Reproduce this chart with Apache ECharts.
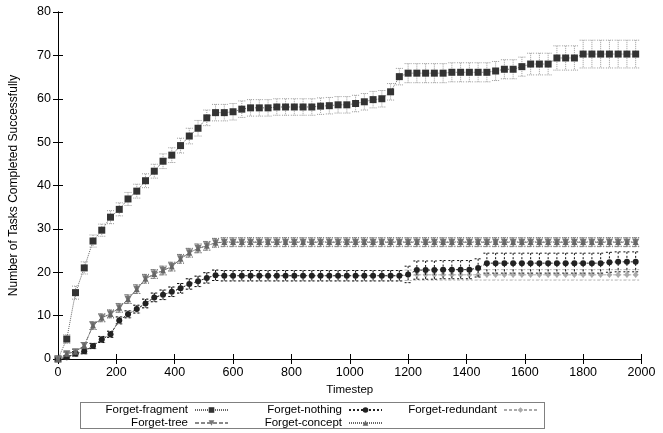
<!DOCTYPE html>
<html><head><meta charset="utf-8">
<script src="https://cdn.jsdelivr.net/npm/echarts@6/dist/echarts.min.js"></script>
<style>html,body{margin:0;padding:0;background:#fff}#c{width:663px;height:433px}</style>
</head><body><div id="c"></div>
<script>
const timesteps = [0,30,60,90,120,150,180,210,240,270,300,330,360,390,420,450,480,510,540,570,600,630,660,690,720,750,780,810,840,870,900,930,960,990,1020,1050,1080,1110,1140,1170,1200,1230,1260,1290,1320,1350,1380,1410,1440,1470,1500,1530,1560,1590,1620,1650,1680,1710,1740,1770,1800,1830,1860,1890,1920,1950,1980];
const xTicks = [0,200,400,600,800,1000,1200,1400,1600,1800,2000];
const yTicks = [0,10,20,30,40,50,60,70,80];

const fragment = [0,4.6,15.3,21.0,27.2,29.7,32.7,34.5,36.9,38.7,41.1,43.3,45.6,47.0,49.2,51.4,53.2,55.6,56.8,56.8,57.0,57.6,57.9,57.9,57.9,58.1,58.1,58.1,58.1,58.1,58.3,58.4,58.6,58.6,58.9,59.3,59.8,60.0,61.6,65.1,65.9,65.9,65.9,65.9,65.9,66.1,66.1,66.1,66.1,66.1,66.4,66.8,66.8,67.4,68.0,68.0,68.0,69.4,69.4,69.4,70.3,70.3,70.3,70.3,70.3,70.3,70.3];
const fragmentErr = [0,1.0,1.5,1.4,1.4,1.4,1.5,1.5,1.5,1.6,1.6,1.6,1.7,1.7,1.7,1.8,1.8,1.8,1.9,1.9,1.9,1.9,1.9,1.9,1.9,1.9,1.9,1.9,1.9,1.9,1.9,1.9,1.9,1.9,1.9,1.9,1.9,1.9,1.9,1.9,2.2,2.2,2.2,2.2,2.2,2.2,2.2,2.2,2.2,2.2,2.2,2.2,2.2,2.2,2.5,2.5,2.5,2.8,2.8,2.8,3.2,3.2,3.2,3.2,3.2,3.2,3.2];

const nothing = [0,0.4,1.2,1.8,3.0,4.5,5.7,8.9,10.3,11.5,12.8,14.2,14.8,15.5,16.3,17.3,17.9,18.7,19.3,19.2,19.2,19.2,19.2,19.2,19.2,19.2,19.2,19.2,19.2,19.2,19.2,19.2,19.2,19.2,19.2,19.2,19.2,19.2,19.2,19.2,19.5,20.5,20.5,20.5,20.6,20.6,20.6,20.6,21.0,22.1,22.1,22.1,22.1,22.1,22.1,22.1,22.1,22.1,22.1,22.1,22.1,22.1,22.1,22.3,22.4,22.4,22.4];
const nothingErr = [0,0.3,0.5,0.6,0.6,0.7,0.7,0.8,0.8,0.9,1.0,1.0,1.1,1.1,1.1,1.2,1.2,1.2,1.2,1.2,1.2,1.2,1.2,1.2,1.2,1.2,1.2,1.2,1.2,1.2,1.2,1.2,1.2,1.2,1.2,1.2,1.2,1.2,1.2,1.2,1.9,2.1,2.1,2.1,2.1,2.1,2.1,2.1,2.1,2.3,2.3,2.3,2.3,2.3,2.3,2.3,2.3,2.3,2.3,2.3,2.3,2.3,2.3,2.3,2.3,2.3,2.3];

const redundant = [0,0.4,1.2,1.8,3.0,4.5,5.7,8.9,10.3,11.5,12.8,14.2,14.8,15.5,16.3,17.3,17.9,18.7,19.3,19.2,19.2,19.2,19.2,19.2,19.2,19.2,19.2,19.2,19.2,19.2,19.2,19.2,19.2,19.2,19.2,19.2,19.2,19.2,19.2,19.2,19.3,19.4,19.4,19.4,19.4,19.4,19.4,19.4,19.4,19.4,19.4,19.4,19.4,19.4,19.4,19.4,19.4,19.4,19.4,19.4,19.4,19.4,19.4,19.4,19.4,19.4,19.4];
const redundantErr = [0,0.3,0.5,0.6,0.6,0.7,0.7,0.8,0.8,0.9,1.0,1.0,1.1,1.1,1.1,1.2,1.2,1.2,1.2,1.2,1.2,1.2,1.2,1.2,1.2,1.2,1.2,1.2,1.2,1.2,1.2,1.2,1.2,1.2,1.2,1.2,1.2,1.2,1.2,1.2,1.2,1.2,1.2,1.2,1.2,1.2,1.2,1.2,1.2,1.2,1.2,1.2,1.2,1.2,1.2,1.2,1.2,1.2,1.2,1.2,1.2,1.2,1.2,1.2,1.2,1.2,1.2];

const tree = [0,1.2,1.7,3.1,7.7,9.5,10.4,11.8,13.8,16.1,18.5,19.6,20.4,21.3,23.1,24.5,25.5,26.1,26.8,26.9,26.9,26.9,26.9,26.9,26.9,26.9,26.9,26.9,26.9,26.9,26.9,26.9,26.9,26.9,26.9,26.9,26.9,26.9,26.9,26.9,26.9,26.9,26.9,26.9,26.9,26.9,26.9,26.9,26.9,26.9,26.9,26.9,26.9,26.9,26.9,26.9,26.9,26.9,26.9,26.9,26.9,26.9,26.9,26.9,26.9,26.9,26.9];
const treeErr = [0,0.4,0.5,0.7,0.9,0.9,0.9,1.0,1.0,1.0,1.0,1.0,1.0,1.0,1.0,1.0,1.0,1.0,1.0,1.0,1.0,1.0,1.0,1.0,1.0,1.0,1.0,1.0,1.0,1.0,1.0,1.0,1.0,1.0,1.0,1.0,1.0,1.0,1.0,1.0,1.0,1.0,1.0,1.0,1.0,1.0,1.0,1.0,1.0,1.0,1.0,1.0,1.0,1.0,1.0,1.0,1.0,1.0,1.0,1.0,1.0,1.0,1.0,1.0,1.0,1.0,1.0];

const concept = [0,1.2,1.7,3.1,7.7,9.5,10.4,11.8,13.8,16.1,18.5,19.6,20.4,21.3,23.1,24.5,25.5,26.1,26.8,27.0,27.0,27.0,27.0,27.0,27.0,27.0,27.0,27.0,27.0,27.0,27.0,27.0,27.0,27.0,27.0,27.0,27.0,27.0,27.0,27.0,27.0,27.0,27.0,27.0,27.0,27.0,27.0,27.0,27.0,27.0,27.0,27.0,27.0,27.0,27.0,27.0,27.0,27.0,27.0,27.0,27.0,27.0,27.0,27.0,27.0,27.0,27.0];
const conceptErr = [0,0.4,0.5,0.7,0.9,0.9,0.9,1.0,1.0,1.0,1.0,1.0,1.0,1.0,1.0,1.0,1.0,1.0,1.0,1.0,1.0,1.0,1.0,1.0,1.0,1.0,1.0,1.0,1.0,1.0,1.0,1.0,1.0,1.0,1.0,1.0,1.0,1.0,1.0,1.0,1.0,1.0,1.0,1.0,1.0,1.0,1.0,1.0,1.0,1.0,1.0,1.0,1.0,1.0,1.0,1.0,1.0,1.0,1.0,1.0,1.0,1.0,1.0,1.0,1.0,1.0,1.0];

const FONT = 'Liberation Sans, Arial, sans-serif';

function errSeries(name, vals, errs, color, dash, z) {
  return {
    type: 'custom', name: name + ' err', silent: true, z: z,
    data: timesteps.map((t, i) => [t, vals[i], errs[i]]),
    renderItem: function (params, api) {
      const x = api.value(0), y = api.value(1), e = api.value(2);
      if (!e) return null;
      const top = api.coord([x, y + e]), bot = api.coord([x, y - e]);
      const w = 3.5;
      const st = { stroke: color, lineWidth: 1, lineDash: dash, fill: null };
      return { type: 'group', children: [
        { type: 'line', shape: { x1: top[0], y1: top[1], x2: bot[0], y2: bot[1] }, style: st },
        { type: 'line', shape: { x1: top[0] - w, y1: top[1], x2: top[0] + w, y2: top[1] }, style: st },
        { type: 'line', shape: { x1: bot[0] - w, y1: bot[1], x2: bot[0] + w, y2: bot[1] }, style: st }
      ]};
    }
  };
}
function lineSeries(name, vals, color, lineColor, symbol, size, dash, z) {
  return {
    type: 'line', name: name, z: z,
    data: timesteps.map((t, i) => [t, vals[i]]),
    symbol: symbol, symbolSize: size, showAllSymbol: true,
    itemStyle: { color: color, borderWidth: 0 },
    lineStyle: { color: lineColor, width: 1, type: dash },
    emphasis: { disabled: true }
  };
}

const chart = echarts.init(document.getElementById('c'), null, { renderer: 'canvas' });

function legendAt(name, right, top) {
  return {
    data: [name], right: right, top: top, align: 'right', padding: 0,
    itemWidth: 33, itemHeight: 7, itemGap: 0, selectedMode: false,
    textStyle: { fontFamily: FONT, fontSize: 11.5, color: '#000', padding: [0, 2, 0, 0] }
  };
}

const axisCommon = {
  axisLine: { show: true, lineStyle: { color: '#000', width: 1 } },
  axisTick: { show: true, inside: true, length: 5, lineStyle: { color: '#000' } },
  splitLine: { show: false }
};
const plain = v => String(v);

chart.setOption({
  animation: false,
  backgroundColor: '#fff',
  grid: { left: 57.5, right: 21.5, top: 12, bottom: 74 },
  xAxis: [
    Object.assign({ type: 'value', min: xTicks[0], max: xTicks[xTicks.length - 1], interval: xTicks[1] - xTicks[0], position: 'bottom',
      name: 'Timestep', nameLocation: 'middle', nameGap: 22,
      nameTextStyle: { fontFamily: FONT, fontSize: 11.5, color: '#000' },
      axisLabel: { fontFamily: FONT, fontSize: 12.5, color: '#000', margin: 7, formatter: plain } }, axisCommon),
    Object.assign({ type: 'value', min: xTicks[0], max: xTicks[xTicks.length - 1], interval: xTicks[1] - xTicks[0], position: 'top',
      axisLabel: { show: false } }, axisCommon)
  ],
  yAxis: [
    Object.assign({ type: 'value', min: yTicks[0], max: yTicks[yTicks.length - 1], interval: yTicks[1] - yTicks[0], position: 'left',
      name: 'Number of Tasks Completed Successfully', nameLocation: 'middle', nameGap: 38,
      nameTextStyle: { fontFamily: FONT, fontSize: 12, color: '#000' },
      axisLabel: { fontFamily: FONT, fontSize: 12.5, color: '#000', margin: 7, formatter: plain } }, axisCommon),
    Object.assign({ type: 'value', min: yTicks[0], max: yTicks[yTicks.length - 1], interval: yTicks[1] - yTicks[0], position: 'right',
      axisLabel: { show: false } }, axisCommon)
  ],
  legend: [
    legendAt('Forget-fragment', 434, 404),
    legendAt('Forget-nothing', 280, 404),
    legendAt('Forget-redundant', 125, 404),
    legendAt('Forget-tree', 434, 417),
    legendAt('Forget-concept', 280, 417)
  ],
  graphic: [{
    type: 'rect', shape: { x: 80.5, y: 402.5, width: 464, height: 26 },
    style: { fill: null, stroke: '#000', lineWidth: 1, lineDash: [1, 1] }, silent: true
  }],
  series: [
    errSeries('Forget-fragment', fragment, fragmentErr, '#9a9a9a', [1, 1], 2),
    lineSeries('Forget-fragment', fragment, '#333', '#666', 'rect', 7, [1, 1], 3),
    errSeries('Forget-redundant', redundant, redundantErr, '#b0b0b0', [3, 2], 2),
    lineSeries('Forget-redundant', redundant, '#aaa', '#aaa', 'diamond', 6, [3, 2], 3),
    errSeries('Forget-nothing', nothing, nothingErr, '#111', [2, 2], 4),
    lineSeries('Forget-nothing', nothing, '#222', '#222', 'circle', 6, [2, 2], 5),
    errSeries('Forget-tree', tree, treeErr, '#888', [4, 2], 4),
    lineSeries('Forget-tree', tree, '#777', '#888', 'path://M0,0 L10,0 L5,9 Z', 7, [4, 2], 5),
    errSeries('Forget-concept', concept, conceptErr, '#777', [1, 1], 4),
    lineSeries('Forget-concept', concept, '#666', '#666', 'triangle', 6, [1, 1], 5)
  ]
});
</script></body></html>
